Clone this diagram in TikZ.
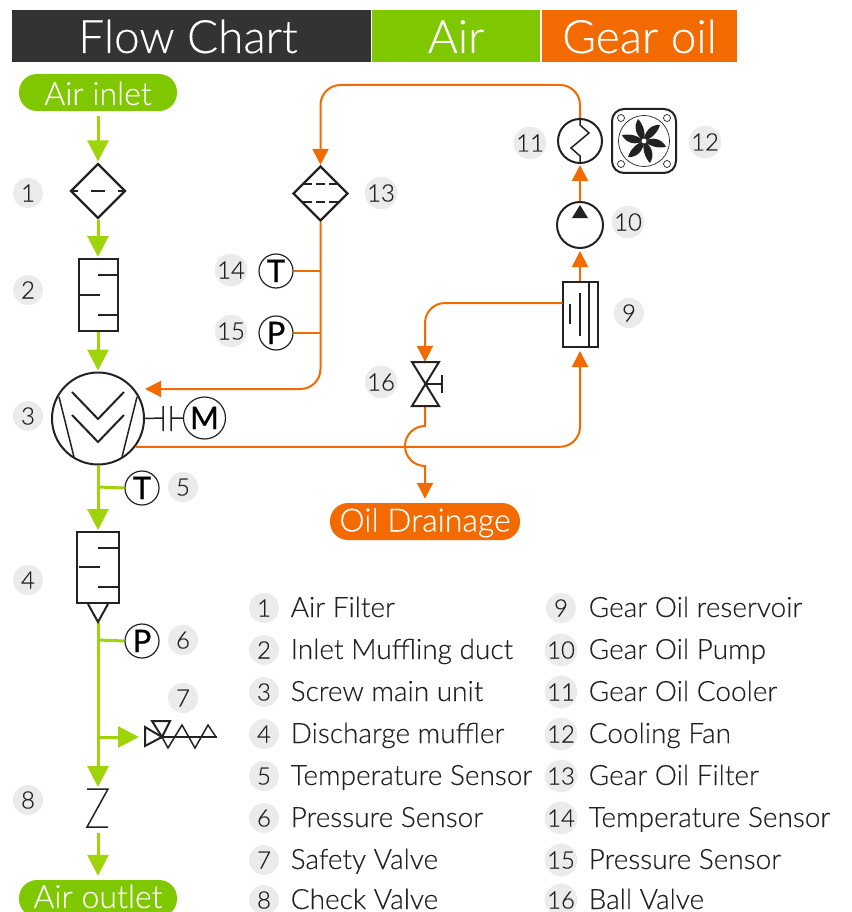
\documentclass[tikz,border=0pt]{standalone}
\usepackage{fontspec}
\setmainfont{Lato}[UprightFont=* Light,FakeBold=0.25]
\newfontfamily\symbolfont{Lato}[FakeBold=0.8]
\usetikzlibrary{arrows.meta,shapes.geometric}
\definecolor{airgreen}{HTML}{7FC800}
\definecolor{airline}{HTML}{9FD40A}
\definecolor{oilorange}{HTML}{F26A00}
\definecolor{headdark}{HTML}{333333}
\definecolor{tagback}{HTML}{EBEBEB}
\definecolor{inkdark}{HTML}{222222}
\tikzset{
  airpipe/.style={draw=airline,line width=3pt,-{Triangle[width=21pt,length=21pt]}},
  airstub/.style={draw=airline,line width=3pt},
  oilpipe/.style={draw=oilorange,line width=2pt,-{Triangle[width=16pt,length=16pt]}},
  oilstub/.style={draw=oilorange,line width=2pt},
  headbox/.style={fill=#1,text=white,minimum height=52pt,inner sep=0pt,text height=34pt,text depth=0pt,font=\fontsize{46}{46}\selectfont},
  pillbox/.style={fill=#1,text=white,rounded corners=18pt,minimum height=37pt,inner sep=0pt,text depth=0pt,font=\fontsize{32}{32}\selectfont},
  tagdot/.style={circle,fill=tagback,text=inkdark,minimum size=30pt,inner sep=0pt,text height=17pt,text depth=0pt,font=\fontsize{24}{24}\selectfont},
  sensor/.style={circle,draw=inkdark,line width=1.2pt,fill=white,minimum size=34pt,inner sep=0pt,text height=22pt,text depth=0pt,font=\symbolfont\fontsize{31}{31}\selectfont},
  filterbox/.style={diamond,aspect=1,draw=inkdark,line width=2.2pt,minimum size=55pt,inner sep=0pt},
  ductbox/.style={rectangle,draw=inkdark,line width=2pt,inner sep=0pt},
  symbolline/.style={draw=inkdark,line width=2pt},
  thinline/.style={draw=inkdark,line width=1.2pt},
  legendtext/.style={anchor=base west,text=inkdark,inner sep=0pt,font=\fontsize{28}{28}\selectfont}
}
\begin{document}
\begin{tikzpicture}[x=1pt,y=-1pt]
  \useasboundingbox (0,0) rectangle (851,912);

  %% header
  \node[headbox=headdark,minimum width=359pt] (headflow) at (191.5,36) {Flow Chart\kern7pt};
  \node[headbox=airgreen,minimum width=168pt] (headair) at (456,36) {Air};
  \node[headbox=oilorange,minimum width=195pt] (headoil) at (639.5,36) {Gear oil};

  %% terminals
  \node[pillbox=airgreen,minimum width=158pt,text height=25pt] (inlet) at (98,92.5) {Air inlet};
  \node[pillbox=airgreen,minimum width=158pt,text height=19pt] (outlet) at (98,898.5) {Air outlet};
  \node[pillbox=oilorange,minimum width=190pt,font=\fontsize{32}{32}\selectfont,text height=20pt] (drain) at (425,521.5) {Oil Drainage};

  %% air side components
  \node[filterbox] (airfilter) at (98,191) {};
  \node[ductbox,minimum width=39pt,minimum height=72pt] (duct) at (98,295) {};
  \node[circle,draw=inkdark,line width=2pt,minimum size=92pt,inner sep=0pt] (screw) at (98,418.5) {};
  \node[ductbox,minimum width=42pt,minimum height=71pt] (muffler) at (98,567.5) {};
  \node[sensor] (airtemp) at (142,488) {T};
  \node[sensor] (airpress) at (142,641) {P};
  \node[sensor,minimum size=42pt] (motor) at (204.5,418) {M};
  \coordinate (mufflertip) at (98,622);
  \coordinate (reliefin) at (139,737);
  \coordinate (checktop) at (98,787);
  \coordinate (checkbot) at (98,829);

  %% oil side components
  \node[filterbox] (oilfilter) at (320.5,193.5) {};
  \node[sensor] (oiltemp) at (276,271) {T};
  \node[sensor] (oilpress) at (276,333) {P};
  \node[ductbox,minimum width=35pt,minimum height=65pt] (reservoir) at (580,314.5) {};
  \node[circle,draw=inkdark,line width=2pt,minimum size=46pt,inner sep=0pt] (pump) at (580,225) {};
  \node[circle,draw=inkdark,line width=2pt,minimum size=44pt,inner sep=0pt] (cooler) at (580,141) {};
  \node[rectangle,draw=inkdark,line width=2pt,rounded corners=12pt,minimum size=64pt,inner sep=0pt] (fan) at (644,141) {};
  \node[inner sep=0pt,minimum width=27pt,minimum height=44pt] (ballvalve) at (425,384) {};
  \coordinate (oiltop) at (320.5,85);
  \coordinate (oilreturn) at (145,389);
  \coordinate (reservoirout) at (562.5,303);
  \coordinate (oildrop) at (425,426);

  %% air lines
  \draw[airpipe,shorten <=5pt,shorten >=1pt] (inlet.south) -- (airfilter.north);
  \draw[airpipe,shorten >=1pt] (airfilter.south) -- (duct.north);
  \draw[airpipe,shorten >=1pt] (duct.south) -- (screw.north);
  \draw[airpipe,shorten >=1pt] (screw.south) -- (muffler.north);
  \draw[airstub] (98,487) -- (airtemp.west);
  \draw[airpipe] (mufflertip) -- (checktop);
  \draw[airstub] (98,640) -- (airpress.west);
  \draw[airpipe] (98,737) -- (reliefin);
  \draw[airpipe,shorten <=4pt,shorten >=4pt] (checkbot) -- (outlet.north);

  %% oil lines
  \draw[oilpipe,rounded corners=20pt] (cooler.north) |- (oiltop) -- (oilfilter.north);
  \draw[oilpipe,rounded corners=20pt] (oilfilter.south) |- (oilreturn);
  \draw[oilstub,line width=1.6pt] (oiltemp.east) -- (320.5,271);
  \draw[oilstub,line width=2.6pt] (oilpress.east) -- (320.5,333);
  \draw[oilpipe,shorten >=1pt] (pump.north) -- (cooler.south);
  \draw[oilpipe,shorten >=2pt] (reservoir.north) -- (pump.south);
  \draw[oilpipe,rounded corners=20pt,shorten >=3pt] (screw.-37) -| (reservoir.south);
  \draw[oilpipe,rounded corners=20pt] (reservoirout) -| (ballvalve.north);
  \draw[oilpipe,shorten >=4pt] (ballvalve.south) -- (oildrop) arc[start angle=90,end angle=270,radius=20pt] -- (drain.north);

  %% air filter detail
  \draw[thinline] (71,191) -- (78,191) (91,191) -- (105,191) (118,191) -- (125,191);
  %% duct detail
  \draw[symbolline,line width=1.5pt] (98,275) -- (117,275) (80,295) -- (100,295) (98,315) -- (117,315);
  %% screw detail
  \draw[symbolline] (72,392) -- (98,419) -- (124,392) (72,415) -- (98,442) -- (124,415);
  \draw[thinline,line width=1.5pt] (59,397) -- (74,457) (137,397) -- (122,457);
  %% coupling
  \draw[thinline,line width=1.5pt] (screw.east) -- (163,418) (163,406) -- (163,431) (171,406) -- (171,431) (171,418) -- (motor.west);
  %% muffler detail
  \draw[symbolline,line width=1.5pt] (98,548) -- (119,548) (79,567) -- (100,567) (98,587) -- (119,587);
  \draw[symbolline] (88,604) -- (mufflertip) -- (108,604);
  %% relief valve
  \draw[symbolline] (162,737) -- (145,727) -- (145,746) -- cycle;
  \draw[symbolline] (162,737) -- (152,721) -- (170,721) -- cycle;
  \draw[symbolline,line width=1.5pt] (162,737) -- (217,737);
  \draw[symbolline,line width=1.5pt] (162,737) -- (168,748) -- (182,725) -- (195,748) -- (208,725) -- (216,737);
  %% check valve
  \draw[thinline,line width=1.5pt] (87,789) -- (108,789) -- (87,827) -- (108,827);
  %% oil filter detail
  \draw[thinline,dash pattern=on 9pt off 4pt] (303,184) -- (339,184) (303,202) -- (339,202);
  %% reservoir detail
  \draw[symbolline,line width=1.5pt] (589,282) -- (589,347) (580,293) -- (580,336);
  \draw[thinline,line width=1.5pt] (570,304) -- (570,324);
  %% pump and cooler detail
  \fill[inkdark] (580,205) -- (588,218) -- (572,218) -- cycle;
  \draw[thinline,line width=1.5pt] (cooler.north) -- (580,125) -- (589,133) -- (571,148) -- (580,156) -- (cooler.south);
  %% fan detail
  \draw[thinline,line width=.7pt] (fan.center) circle (25.5pt);
  \foreach \cornerx/\cornery in {621/118,667/118,621/164,667/164} {
    \draw[thinline,line width=.7pt] (\cornerx,\cornery) circle (3.5pt); }
  \foreach \bladeangle in {0,60,...,300} {
    \fill[inkdark,shift={(644,141)},rotate=\bladeangle]
      (0,0) .. controls (-8,-5) and (-11,-14) .. (-6,-22) .. controls (-1,-17) and (2,-8) .. (0,0); }
  \fill[white] (fan.center) circle (3pt);
  \draw[thinline,line width=.7pt] (fan.center) circle (3pt);
  %% ball valve
  \draw[symbolline] (412,362) -- (439,362) -- (412,406) -- (439,406) -- cycle;
  \draw[thinline,line width=1.5pt] (425.5,384) -- (442,384) (442,375) -- (442,393);

  %% number tags
  \foreach \tagx/\tagy/\tagnum in {28/193/1,28/290/2,28/416/3,28/580/4,183/487/5,183/640/6,183/698/7,28/800/8,
      629/313/9,628/222/10,530/143/11,705/142/12,381/193/13,231/270/14,231/331/15,381/382/16} {
    \node[tagdot] (tag\tagnum) at (\tagx,\tagy) {\tagnum}; }

  %% legend
  \foreach \rowy/\tagnum/\rowtext in {608/1/Air Filter,650/2/Inlet Muffling duct,692/3/Screw main unit,
      734/4/Discharge muffler,776/5/Temperature Sensor,818/6/Pressure Sensor,860/7/Safety Valve,900/8/Check Valve} {
    \node[tagdot] (legdot\tagnum) at (264,\rowy) {\tagnum};
    \node[legendtext] (legtext\tagnum) at (290.5,\rowy+9) {\rowtext}; }
  \foreach \rowy/\tagnum/\rowtext in {608/9/Gear Oil reservoir,650/10/Gear Oil Pump,692/11/Gear Oil Cooler,
      734/12/Cooling Fan,776/13/Gear Oil Filter,818/14/Temperature Sensor,860/15/Pressure Sensor,900/16/Ball Valve} {
    \node[tagdot] (legdot\tagnum) at (561,\rowy) {\tagnum};
    \node[legendtext] (legtext\tagnum) at (588.5,\rowy+9) {\rowtext}; }
\end{tikzpicture}
\end{document}
